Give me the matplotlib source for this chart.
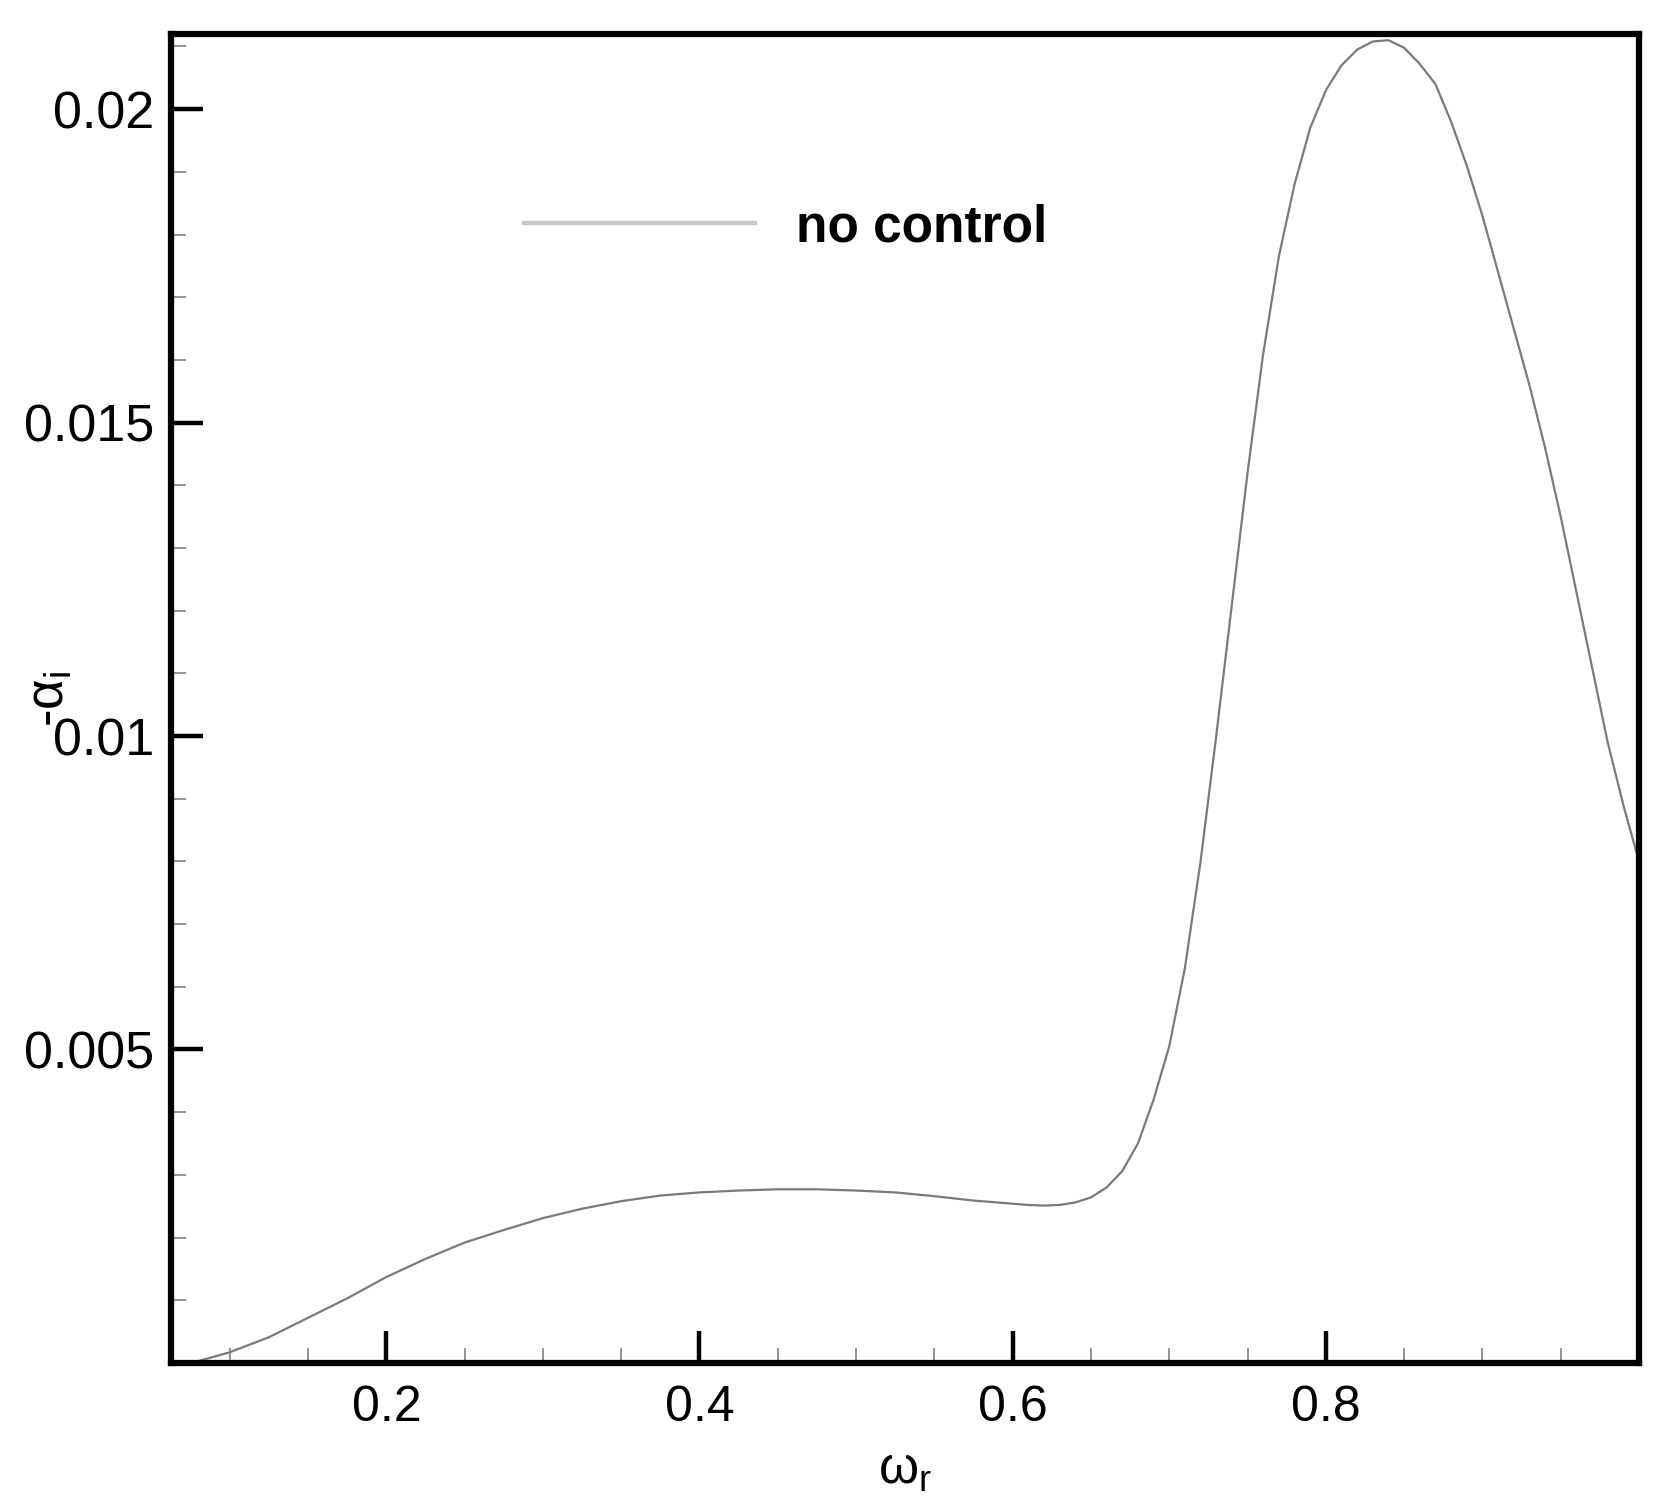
import numpy as np
import matplotlib.pyplot as plt
from matplotlib.lines import Line2D
from matplotlib.ticker import MultipleLocator

plt.rcParams['font.family'] = ['Liberation Sans', 'DejaVu Sans']
plt.rcParams['mathtext.fontset'] = 'custom'
plt.rcParams['mathtext.rm'] = 'Liberation Sans'

# values
omega_r = [0.065, 0.08, 0.10, 0.125, 0.15, 0.175, 0.20, 0.225, 0.25, 0.275,
           0.30, 0.325, 0.35, 0.375, 0.40, 0.425, 0.45, 0.475, 0.50, 0.525,
           0.55, 0.575, 0.60, 0.61, 0.62, 0.63, 0.64, 0.65, 0.66, 0.67,
           0.68, 0.69, 0.70, 0.71, 0.72, 0.73, 0.74, 0.75, 0.76, 0.77,
           0.78, 0.79, 0.80, 0.81, 0.82, 0.83, 0.84, 0.85, 0.86, 0.87,
           0.88, 0.89, 0.90, 0.91, 0.92, 0.93, 0.94, 0.95, 0.96, 0.97,
           0.98, 0.99, 1.00]
neg_alpha_i = [-0.00015, 0.00003, 0.00017, 0.00041, 0.00072, 0.00103, 0.00137, 0.00166, 0.00192, 0.00212,
               0.00231, 0.00246, 0.00258, 0.00267, 0.00272, 0.00275, 0.00277, 0.00277, 0.00275, 0.00272,
               0.00266, 0.00259, 0.00254, 0.00252, 0.00251, 0.00252, 0.00256, 0.00264, 0.00280, 0.00306,
               0.00350, 0.00420, 0.00505, 0.00630, 0.00800, 0.01000, 0.01210, 0.01420, 0.01610, 0.01765,
               0.01880, 0.01970, 0.02030, 0.02070, 0.02095, 0.02108, 0.02110, 0.02098, 0.02072, 0.02040,
               0.01980, 0.01910, 0.01830, 0.01740, 0.01650, 0.01560, 0.01460, 0.01350, 0.01230, 0.01110,
               0.00990, 0.00890, 0.00800]

series_label = "no control"
x_ticks = [0.2, 0.4, 0.6, 0.8]
y_ticks = [0.005, 0.01, 0.015, 0.02]
y_tick_labels = ["0.005", "0.01", "0.015", "0.02"]

fig = plt.figure(figsize=(16.8, 15.09), dpi=100)
ax = fig.add_axes([0.1018, 0.0968, 0.8738, 0.8807])

ax.plot(omega_r, neg_alpha_i, color='#7a7a7a', lw=1.6)

ax.set_xlim(0.0625, 1.0)
ax.set_ylim(0.0, 0.0212)
ax.set_xticks(x_ticks)
ax.set_xticklabels([str(t) for t in x_ticks])
ax.set_yticks(y_ticks)
ax.set_yticklabels(y_tick_labels)
ax.xaxis.set_minor_locator(MultipleLocator(0.05))
ax.yaxis.set_minor_locator(MultipleLocator(0.001))

for s in ax.spines.values():
    s.set_linewidth(4.5)
ax.tick_params(which='major', direction='in', length=23, width=3.2,
               color='black')
ax.tick_params(axis='x', which='major', pad=16, labelsize=36)
ax.tick_params(axis='y', which='major', pad=12, labelsize=37.5)
ax.tick_params(which='minor', direction='in', length=11, width=1.3,
               color='#8a8a8a')

ax.set_xlabel(r'ω$_\mathregular{r}$', fontsize=37)
ax.xaxis.set_label_coords(0.5, -0.062)
ax.set_ylabel(r'-α$_\mathregular{i}$', fontsize=38)
ax.yaxis.set_label_coords(-0.066, 0.5)

handle = Line2D([], [], color='#c8c8c8', lw=3.2)
ax.legend([handle], [series_label], loc='center left',
          bbox_to_anchor=(0.223, 0.854), frameon=False, borderpad=0,
          handlelength=4.5, handletextpad=0.8,
          prop={'size': 37, 'weight': 'bold'})

fig.savefig("out.png", dpi=100)
